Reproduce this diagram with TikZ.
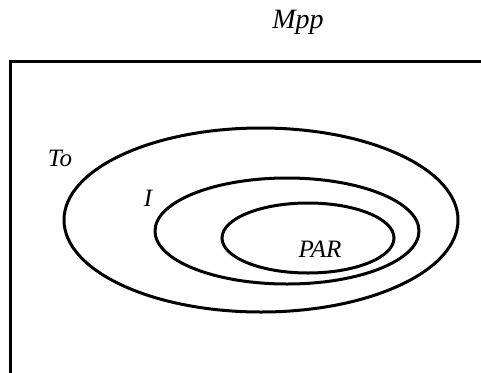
\documentclass[tikz,border=0pt]{standalone}
\usepackage{fontspec}
\setmainfont{Liberation Serif}
\begin{document}
\begin{tikzpicture}[x=1pt,y=-1pt,
  frame/.style={line width=3.2pt},
  setline/.style={line width=3pt},
  lbl/.style={font=\fontsize{25}{30}\selectfont\itshape, anchor=base, inner sep=0pt}]
\useasboundingbox (0,0) rectangle (481,372);
\draw[frame] (10.7,380) -- (10.7,61.3) -- (490,61.3);
\draw[setline] (261,220) ellipse [x radius=197pt, y radius=92pt];
\draw[setline] (287,231) ellipse [x radius=132pt, y radius=53pt];
\draw[setline] (308,238) ellipse [x radius=86pt, y radius=35pt];
\node[lbl, font=\fontsize{28}{32}\selectfont\itshape] (mpp) at (298,28) {Mpp};
\node[lbl] (to) at (60,166) {To};
\node[lbl] (i) at (148,206) {I};
\node[lbl] (par) at (320,257) {PAR};
\end{tikzpicture}
\end{document}
